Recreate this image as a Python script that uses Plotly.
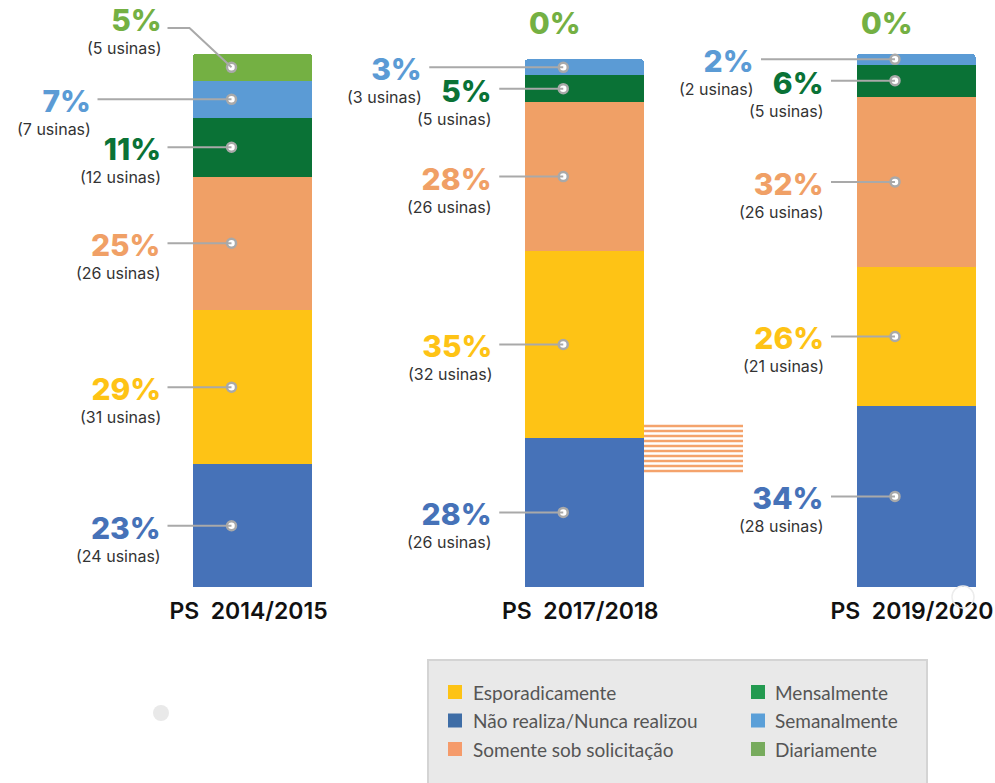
import plotly.graph_objects as go

# ---- data -----------------------------------------------------------------
categories = ["PS 2014/2015", "PS 2017/2018", "PS 2019/2020"]

# stacked bottom -> top
series_names = [
    "Não realiza/Nunca realizou",
    "Esporadicamente",
    "Somente sob solicitação",
    "Mensalmente",
    "Semanalmente",
    "Diariamente",
]
nao_pct = [23, 28, 34]
nao_usinas = [24, 26, 28]
esp_pct = [29, 35, 26]
esp_usinas = [31, 32, 21]
som_pct = [25, 28, 32]
som_usinas = [26, 26, 26]
men_pct = [11, 5, 6]
men_usinas = [12, 5, 5]
sem_pct = [7, 3, 2]
sem_usinas = [7, 3, 2]
dia_pct = [5, 0, 0]
dia_usinas = [5, 0, 0]

pct_values = [nao_pct, esp_pct, som_pct, men_pct, sem_pct, dia_pct]
usinas_values = [nao_usinas, esp_usinas, som_usinas, men_usinas, sem_usinas, dia_usinas]

# ---- styles ---------------------------------------------------------------
bar_colors = ["#4672b8", "#fec315", "#f0a066", "#0a7236", "#5b9bd5", "#74b043"]
legend_order = [
    "Esporadicamente", "Não realiza/Nunca realizou", "Somente sob solicitação",
    "Mensalmente", "Semanalmente", "Diariamente",
]
legend_colors = ["#fdc315", "#3e6da6", "#f59b6b", "#239a50", "#5a9fd8", "#77ab5d"]

LABEL_FONT = "Inter"
LEGEND_FONT = "Lato"
W, H = 995, 783
PLOT_BOTTOM = 587          # px of the baseline
TOP_100 = 54               # px of the 100 % level
UNIT = 331.75              # px between bar centres
X_START = 252.5            # px of first bar centre
BAR_W = 119 / UNIT
Y_MAX = 100 * PLOT_BOTTOM / (PLOT_BOTTOM - TOP_100)


def y_of_px(p):
    return (PLOT_BOTTOM - p) / (PLOT_BOTTOM - TOP_100) * 100


def dx(px):
    return px / UNIT


def paper_x(p):
    return p / W


def paper_y(p):
    return (PLOT_BOTTOM - p) / PLOT_BOTTOM


def label_text(value, count, color):
    return (f"<span style='font-size:30px;font-weight:800;color:{color}'>{value}%</span>"
            f"<br><span style='font-size:16px;color:#333333'>({count} usinas)</span>")


LINE_COLOR = "#a9a9a9"

fig = go.Figure()

xs = list(range(len(categories)))
for name, vals, col in zip(series_names, pct_values, bar_colors):
    fig.add_trace(go.Bar(
        x=xs, y=vals, width=BAR_W, name=name,
        marker=dict(color=col, line=dict(width=0)),
        showlegend=False, hoverinfo="skip",
    ))

annotations = []
shapes = []
dot_x_all, dot_y_all = [], []

for i in xs:
    base = 0
    dot_x = i - dx(21)
    for name, vals, usinas, col in zip(series_names, pct_values, usinas_values, bar_colors):
        v = vals[i]
        mid = base + v / 2
        base += v
        if name == "Diariamente":
            if v == 0:
                annotations.append(dict(
                    x=dot_x - dx(8), y=y_of_px(23), xref="x", yref="y",
                    text=f"{v}%", showarrow=False, xanchor="center", yanchor="middle",
                    font=dict(family=LABEL_FONT, size=30, color=col, weight=800),
                ))
                continue
            # label sits above the bar, leader line bends down to the segment
            line_y = y_of_px(28)
            right = dot_x - dx(69)
            dot_x_all.append(dot_x)
            dot_y_all.append(mid)
            shapes.append(dict(
                type="path", xref="x", yref="y",
                path=f"M {right + dx(5)},{line_y} L {dot_x - dx(42)},{line_y} L {dot_x},{mid}",
                line=dict(color=LINE_COLOR, width=2),
            ))
            annotations.append(dict(
                x=right, y=line_y, xref="x", yref="y",
                text=label_text(v, usinas[i], col), align="right",
                showarrow=False, xanchor="right", yanchor="top", yshift=27, borderpad=0,
                font=dict(family=LABEL_FONT, size=18),
            ))
            continue
        if v == 0:
            continue
        offset = 140 if name == "Semanalmente" else 70
        right = dot_x - dx(offset)
        dot_x_all.append(dot_x)
        dot_y_all.append(mid)
        shapes.append(dict(
            type="line", xref="x", yref="y",
            x0=right + dx(6), x1=dot_x, y0=mid, y1=mid,
            line=dict(color=LINE_COLOR, width=2),
        ))
        annotations.append(dict(
            x=right, y=mid, xref="x", yref="y",
            text=label_text(v, usinas[i], col), align="right",
            showarrow=False, xanchor="right", yanchor="top", yshift=17, borderpad=0,
            font=dict(family=LABEL_FONT, size=17.5),
        ))

# white dots with grey ring where the leader lines end
fig.add_trace(go.Scatter(
    x=dot_x_all, y=dot_y_all, mode="markers",
    marker=dict(symbol="circle", size=9, color="white",
                line=dict(color=LINE_COLOR, width=2.5)),
    showlegend=False, hoverinfo="skip", cliponaxis=False,
))

# orange striped band to the right of the middle bar
stripe_x0 = 1 + BAR_W / 2
stripe_x1 = (743 - X_START) / UNIT
for k in range(10):
    yy = y_of_px(426 + 5 * k)
    shapes.append(dict(
        type="line", xref="x", yref="y", x0=stripe_x0, x1=stripe_x1, y0=yy, y1=yy,
        line=dict(color="#f4a36c", width=2.5), layer="below",
    ))

# decorative circles
shapes.append(dict(type="circle", xref="paper", yref="paper",
                   x0=paper_x(153), x1=paper_x(169), y0=paper_y(721), y1=paper_y(705),
                   fillcolor="#e9e9e9", line=dict(width=0)))
shapes.append(dict(type="circle", xref="paper", yref="paper",
                   x0=paper_x(952), x1=paper_x(974), y0=paper_y(608), y1=paper_y(586),
                   fillcolor="rgba(0,0,0,0)", line=dict(color="#ececec", width=1.5)))

# legend panel
shapes.append(dict(type="rect", xref="paper", yref="paper",
                   x0=paper_x(428), x1=paper_x(927), y0=paper_y(795), y1=paper_y(660),
                   fillcolor="#e9e9e9", line=dict(color="#d4d4d4", width=2)))
for k, (name, col) in enumerate(zip(legend_order, legend_colors)):
    column, row = divmod(k, 3)
    sq_x = 448 if column == 0 else 751
    txt_x = 471 if column == 0 else 773
    cy = 692 + row * 28.5
    shapes.append(dict(type="rect", xref="paper", yref="paper",
                       x0=paper_x(sq_x), x1=paper_x(sq_x + 14),
                       y0=paper_y(cy + 7), y1=paper_y(cy - 7),
                       fillcolor=col, line=dict(width=0)))
    annotations.append(dict(
        x=paper_x(txt_x), y=paper_y(cy), xref="paper", yref="paper",
        text=name, showarrow=False, xanchor="left", yanchor="middle",
        font=dict(family=LEGEND_FONT, size=19, color="#555555"),
    ))

fig.update_layout(
    barmode="stack",
    barcornerradius=3,
    width=W, height=H, autosize=False,
    margin=dict(l=0, r=0, t=0, b=H - PLOT_BOTTOM, pad=0),
    paper_bgcolor="white", plot_bgcolor="white",
    xaxis=dict(
        range=[-X_START / UNIT, (W - X_START) / UNIT],
        tickvals=xs, ticktext=[c.replace(" ", "\u2002") for c in categories],
        tickfont=dict(family=LABEL_FONT, size=23, color="#111111", weight=600),
        showgrid=False, zeroline=False, showline=False, ticks="",
        ticklabelstandoff=8, ticklabelshift=-4, ticklabeloverflow="allow",
        fixedrange=True,
    ),
    yaxis=dict(range=[0, Y_MAX], visible=False, fixedrange=True),
    shapes=shapes,
    annotations=annotations,
    showlegend=False,
)

fig.write_html("out.html")
